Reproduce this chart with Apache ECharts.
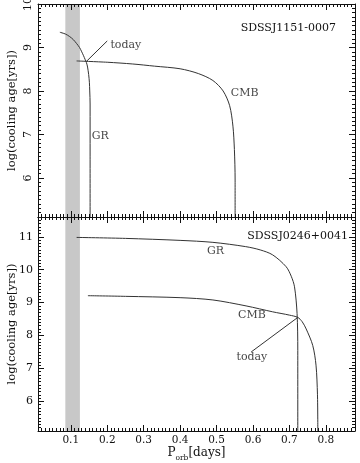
<!DOCTYPE html>
<html>
<head>
<meta charset="utf-8">
<script src="https://cdn.jsdelivr.net/npm/echarts@6/dist/echarts.min.js"></script>
<style>
html,body{margin:0;padding:0;background:#fff;}
#chart{width:360px;height:463px;}
</style>
</head>
<body>
<div id="chart"></div>
<script>
// ---------- data ----------
const X_MIN = 0.01, X_MAX = 0.88;
const TOP_Y_MIN = 5.1, TOP_Y_MAX = 10;
const BOT_Y_MIN = 5.1, BOT_Y_MAX = 11.6;

const xTickValues = [0.1, 0.2, 0.3, 0.4, 0.5, 0.6, 0.7, 0.8];
const topYTickValues = [6, 7, 8, 9, 10];
const botYTickValues = [6, 7, 8, 9, 10, 11];

const bandRange = [0.085, 0.125];

// top panel: SDSSJ1151-0007
const topGrX = [0.070, 0.085, 0.097, 0.107, 0.116, 0.124, 0.130, 0.135, 0.139, 0.143, 0.146, 0.149, 0.151, 0.152, 0.153, 0.153, 0.153];
const topGrY = [9.35, 9.31, 9.25, 9.18, 9.09, 9.00, 8.90, 8.81, 8.73, 8.65, 8.55, 8.38, 8.20, 8.00, 7.70, 6.50, 5.10];
const topCmbX = [0.116, 0.20, 0.27, 0.33, 0.40, 0.45, 0.49, 0.518, 0.536, 0.545, 0.549, 0.551, 0.551];
const topCmbY = [8.69, 8.66, 8.62, 8.57, 8.51, 8.40, 8.24, 8.00, 7.66, 7.19, 6.65, 5.95, 5.10];
const topTodayX = [0.143, 0.200];
const topTodayY = [8.68, 9.15];

// bottom panel: SDSSJ0246+0041
const botGrX = [0.116, 0.25, 0.40, 0.49, 0.58, 0.62, 0.654, 0.691, 0.705, 0.714, 0.721, 0.723, 0.723];
const botGrY = [10.98, 10.95, 10.89, 10.83, 10.70, 10.60, 10.45, 10.09, 9.80, 9.48, 8.67, 7.55, 5.10];
const botCmbX = [0.147, 0.25, 0.40, 0.49, 0.581, 0.654, 0.70, 0.723, 0.735, 0.746, 0.764, 0.773, 0.777, 0.778];
const botCmbY = [9.21, 9.19, 9.15, 9.08, 8.90, 8.72, 8.62, 8.55, 8.42, 8.20, 7.70, 7.10, 6.20, 5.10];
const botTodayX = [0.723, 0.595];
const botTodayY = [8.55, 7.50];

// annotation texts (data coordinates of text centres)
const topNotes = [
  {text: 'today', x: 0.251, y: 9.05},
  {text: 'GR', x: 0.181, y: 6.95},
  {text: 'CMB', x: 0.577, y: 7.95}
];
const botNotes = [
  {text: 'GR', x: 0.497, y: 10.55},
  {text: 'CMB', x: 0.597, y: 8.62},
  {text: 'today', x: 0.597, y: 7.35}
];
const topTitle = 'SDSSJ1151-0007';
const botTitle = 'SDSSJ0246+0041';
const yName = 'log(cooling age[yrs])';

// ---------- helpers ----------
const FONT = 'DejaVu Serif';
const INK = '#111';
const LINE = '#333';

function zip(xs, ys) { return xs.map((x, i) => [x, ys[i]]); }
function minorValues(lo, hi, step) {
  const out = [];
  const n0 = Math.ceil(lo / step - 1e-9), n1 = Math.floor(hi / step + 1e-9);
  for (let k = n0; k <= n1; k++) out.push(Math.round(k * step * 1000) / 1000);
  return out;
}
const xMinor = minorValues(X_MIN, X_MAX, 0.01);
const topYMinor = minorValues(TOP_Y_MIN, TOP_Y_MAX, 0.1);
const botYMinor = minorValues(BOT_Y_MIN, BOT_Y_MAX, 0.1);

function makeAxis(gridIndex, position, min, max, ticks, isMajor, showLine, labelOpt, nameOpt) {
  const a = {
    type: 'value', gridIndex, position, min, max, z: 10,
    splitLine: {show: false},
    axisLine: {show: showLine, onZero: false, lineStyle: {color: INK, width: 1}},
    axisTick: {show: true, inside: true, length: isMajor ? 6 : 3, customValues: ticks, lineStyle: {color: INK, width: 1}},
    axisLabel: labelOpt ? Object.assign({show: true, customValues: ticks, color: INK, fontFamily: FONT, fontSize: 10.5}, labelOpt) : {show: false}
  };
  if (nameOpt) Object.assign(a, {nameMoveOverlap: false}, nameOpt);
  return a;
}

const xAxes = [];
const yAxes = [];
[0, 1].forEach(g => {
  const isBottom = g === 1;
  xAxes.push(makeAxis(g, 'bottom', X_MIN, X_MAX, xTickValues, true, true,
    isBottom ? {margin: 4} : null,
    isBottom ? {
      name: '{p|P}{s|orb}{d|[days]}', nameLocation: 'middle', nameGap: 14,
      nameTextStyle: {color: INK, fontFamily: FONT, verticalAlign: 'top', rich: {
        p: {fontSize: 12, fontFamily: FONT, color: INK, verticalAlign: 'bottom', lineHeight: 14},
        s: {fontSize: 7.5, fontFamily: FONT, color: INK, verticalAlign: 'bottom', lineHeight: 10, padding: [0, 0, -3, 0]},
        d: {fontSize: 12, fontFamily: FONT, color: INK, verticalAlign: 'bottom', lineHeight: 14}
      }}
    } : null));
  xAxes.push(makeAxis(g, 'bottom', X_MIN, X_MAX, xMinor, false, false, null, null));
  xAxes.push(makeAxis(g, 'top', X_MIN, X_MAX, xTickValues, true, true, null, null));
  xAxes.push(makeAxis(g, 'top', X_MIN, X_MAX, xMinor, false, false, null, null));

  const ymin = isBottom ? BOT_Y_MIN : TOP_Y_MIN;
  const ymax = isBottom ? BOT_Y_MAX : TOP_Y_MAX;
  const yt = isBottom ? botYTickValues : topYTickValues;
  const ym = isBottom ? botYMinor : topYMinor;
  yAxes.push(makeAxis(g, 'left', ymin, ymax, yt, true, true,
    isBottom ? {margin: 5, fontSize: 11} : {margin: 4, fontSize: 11, rotate: 90},
    {name: yName, nameLocation: 'middle', nameGap: 20, nameRotate: 90,
     nameTextStyle: {color: INK, fontFamily: FONT, fontSize: 11.5}}));
  yAxes.push(makeAxis(g, 'left', ymin, ymax, ym, false, false, null, null));
  yAxes.push(makeAxis(g, 'right', ymin, ymax, yt, true, true, null, null));
  yAxes.push(makeAxis(g, 'right', ymin, ymax, ym, false, false, null, null));
});

function curve(g, xs, ys) {
  return {
    type: 'line', xAxisIndex: g * 4, yAxisIndex: g * 4, data: zip(xs, ys),
    showSymbol: false, symbol: 'none', smooth: 0.3, z: 3, silent: true,
    lineStyle: {color: LINE, width: 1}
  };
}
function straight(g, xs, ys) {
  return {
    type: 'line', xAxisIndex: g * 4, yAxisIndex: g * 4, data: zip(xs, ys),
    showSymbol: false, symbol: 'none', z: 3, silent: true,
    lineStyle: {color: LINE, width: 1}
  };
}
function band(g) {
  return {
    type: 'line', xAxisIndex: g * 4, yAxisIndex: g * 4, data: [], z: 1, silent: true,
    markArea: {silent: true, itemStyle: {color: '#c8c8c8', opacity: 1},
      data: [[{xAxis: bandRange[0]}, {xAxis: bandRange[1]}]]}
  };
}
function notes(g, list) {
  return {
    type: 'scatter', xAxisIndex: g * 4, yAxisIndex: g * 4, symbolSize: 0, z: 4, silent: true,
    data: list.map(n => ({value: [n.x, n.y], name: n.text})),
    label: {show: true, position: 'inside', formatter: p => p.name,
      color: INK, fontFamily: FONT, fontSize: 11}
  };
}

const option = {
  animation: false,
  backgroundColor: '#fff',
  grid: [
    {left: 38, right: 5, top: 4, height: 213, containLabel: false, outerBoundsMode: 'none'},
    {left: 38, right: 5, top: 217, height: 214, containLabel: false, outerBoundsMode: 'none'}
  ],
  title: [
    {text: topTitle, right: 24, top: 23, padding: 0,
     textStyle: {color: INK, fontFamily: FONT, fontSize: 11, fontWeight: 'normal'}},
    {text: botTitle, right: 12, top: 231, padding: 0,
     textStyle: {color: INK, fontFamily: FONT, fontSize: 11, fontWeight: 'normal'}}
  ],
  xAxis: xAxes,
  yAxis: yAxes,
  series: [
    band(0), band(1),
    curve(0, topGrX, topGrY), curve(0, topCmbX, topCmbY), straight(0, topTodayX, topTodayY),
    curve(1, botGrX, botGrY), curve(1, botCmbX, botCmbY), straight(1, botTodayX, botTodayY),
    notes(0, topNotes), notes(1, botNotes)
  ]
};

const chart = echarts.init(document.getElementById('chart'), null, {renderer: 'canvas'});
chart.setOption(option);
</script>
</body>
</html>
